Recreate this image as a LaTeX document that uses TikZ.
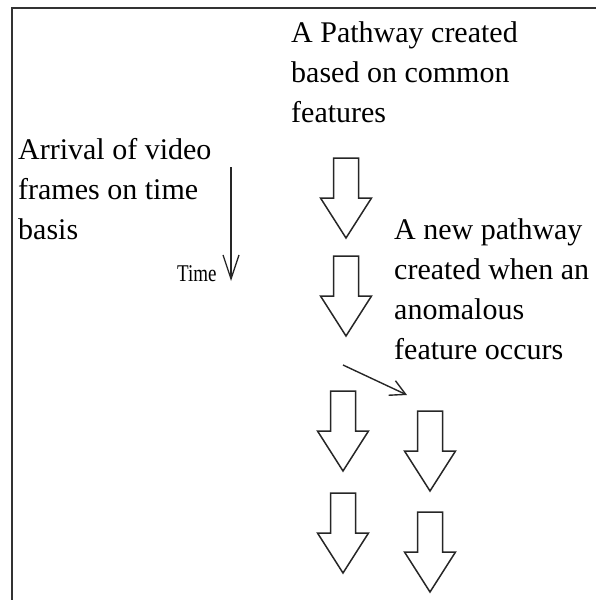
\documentclass[tikz,border=0pt]{standalone}
\usepackage{fontspec}
\setmainfont{Liberation Serif}
\usetikzlibrary{arrows.meta}
\tikzset{
  frameline/.style={line width=2pt, draw=black!80},
  lbl/.style={anchor=base west, inner sep=0pt, align=left, font=\fontsize{30}{40}\selectfont},
  thinarrow/.style={line width=1.4pt, draw=black!85},
  blockarrow/.pic={
    \draw[line width=1.5pt, draw=black!85, fill=white, line join=miter]
      (-12.5,0) -- (12.5,0) -- (12.5,40) -- (25.5,40) -- (0,80) -- (-25.5,40) -- (-12.5,40) -- cycle;
    \coordinate (-top) at (0,0);
    \coordinate (-tip) at (0,80);
  }
}
\begin{document}
\begin{tikzpicture}[x=1pt,y=-1pt]
\useasboundingbox (0,0) rectangle (596,600);
% frame
\coordinate (ftl) at (12,8);
\coordinate (ftr) at (596,8);
\coordinate (fbl) at (12,600);
\draw[frameline] (ftr) -- (ftl) -- (fbl);

% texts (anchored at the baseline of their last line)
\node[lbl] (arrival) at (18,239) {Arrival of video\\frames on time\\basis};
\node[lbl] (pathway) at (291,122) {A Pathway created\\based on common\\features};
\node[lbl] (newpath) at (394,359) {A new pathway\\created when an\\anomalous\\feature occurs};
\node[anchor=base west, inner sep=0pt, font=\fontsize{24}{26}\selectfont] (time) at (177,281) {\scalebox{0.79}[1]{Time}};

% time arrow
\coordinate (tstart) at (231,167);
\coordinate (tend) at (231,281);
\draw[thinarrow, line width=1.3pt, -{Straight Barb[length=24pt,width=16pt,line width=1.3pt]}] (tstart) -- (tend);

% block arrows
\pic (a1) at (346,158) {blockarrow};
\pic (a2) at (346,256) {blockarrow};
\pic (a3) at (343,391) {blockarrow};
\pic (a4) at (430,411) {blockarrow};
\pic (a5) at (343,493) {blockarrow};
\pic (a6) at (430,512) {blockarrow};

% new pathway arrow
\coordinate (nstart) at (343,365);
\coordinate (nend) at (407,395);
\draw[thinarrow, -{Straight Barb[length=15pt,width=16pt,line width=1.4pt]}] (nstart) -- (nend);
\end{tikzpicture}
\end{document}
